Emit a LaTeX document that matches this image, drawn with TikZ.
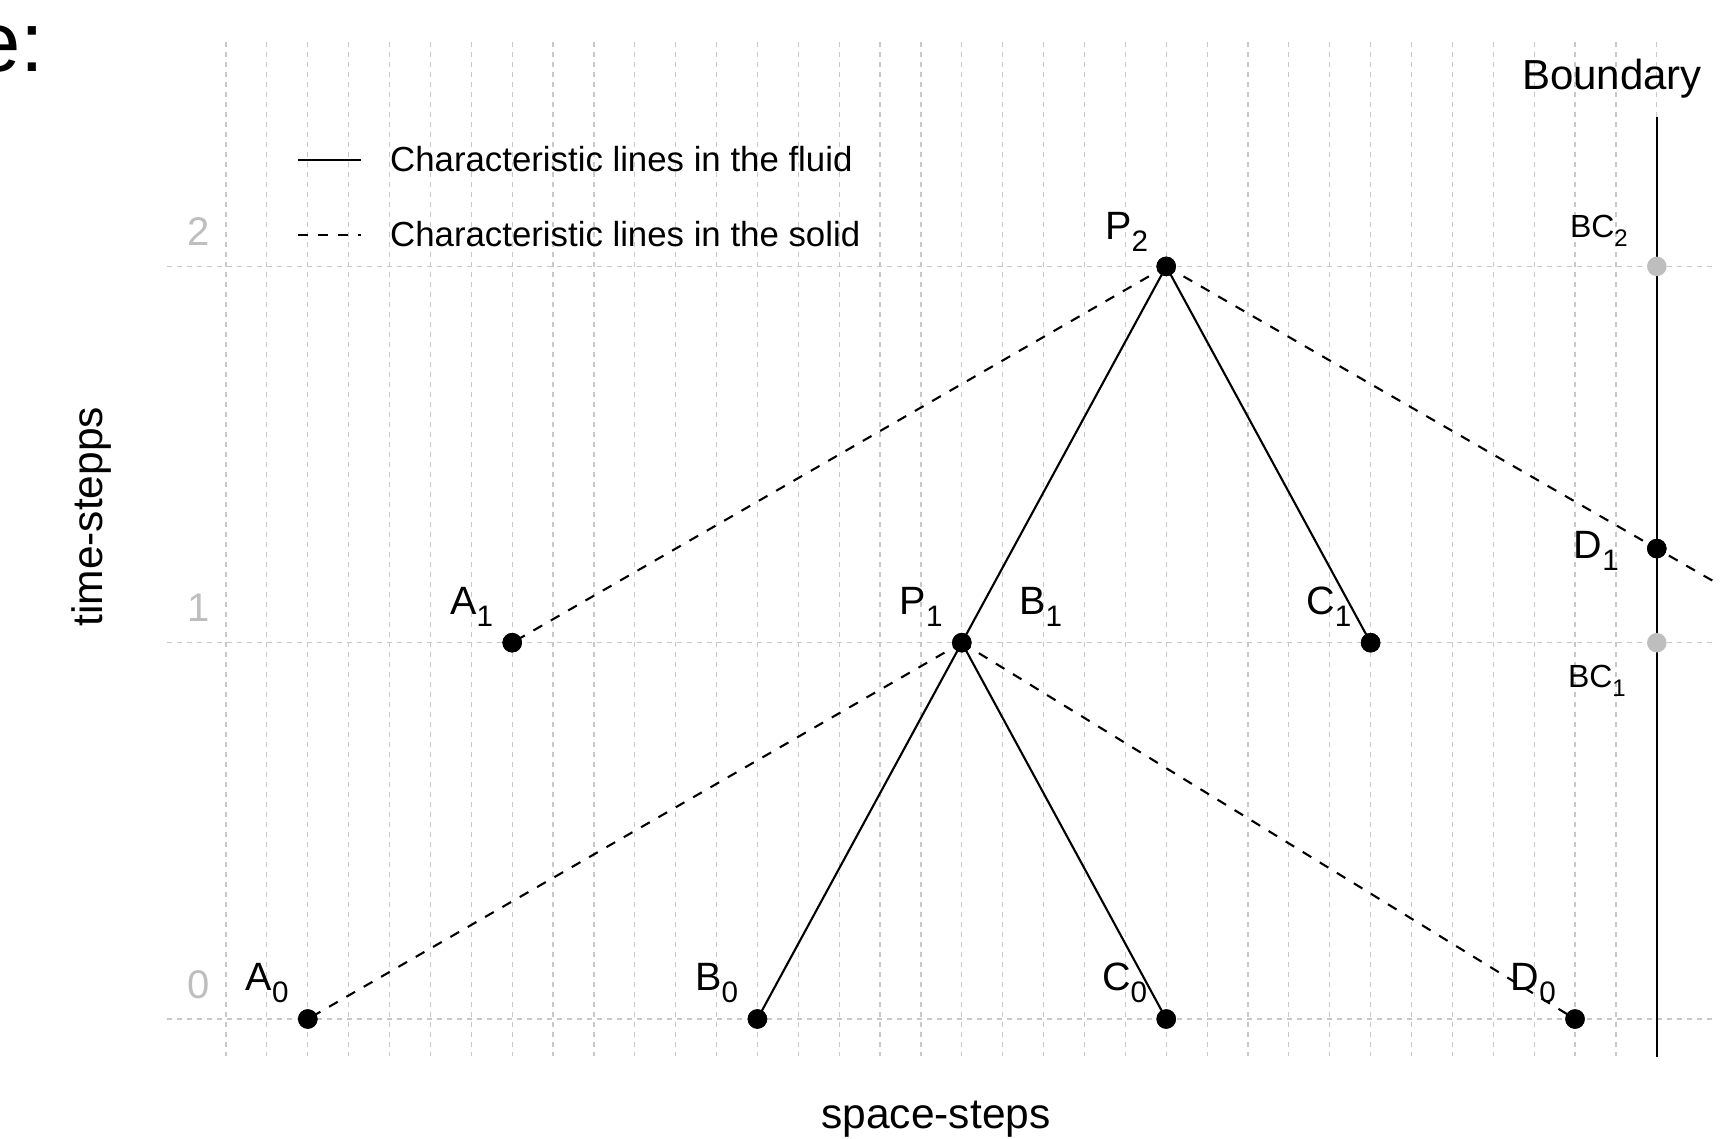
\documentclass[tikz,border=0pt]{standalone}
\usepackage{fontspec}
\setmainfont{Liberation Sans}
\definecolor{gridc}{HTML}{C8C8C8}
\definecolor{tickc}{HTML}{BEBEBE}
\definecolor{bcc}{HTML}{BEBEBE}
\newcommand{\lbl}[2]{#1\raisebox{-0.3em}{\scalebox{0.75}{#2}}}
\begin{document}
\begin{tikzpicture}[x=1pt,y=-1pt,
  gridline/.style={draw=gridc, line width=1.2pt, dash pattern=on 5pt off 5pt},
  fluidln/.style={draw=black, line width=2.1pt},
  solidln/.style={draw=black, line width=2.1pt, dash pattern=on 10pt off 10pt},
  boundln/.style={draw=black, line width=2.4pt},
  dot/.style={circle, fill=black, inner sep=0pt, minimum size=19.5pt},
  bcdot/.style={circle, fill=bcc, inner sep=0pt, minimum size=19.5pt},
  ptlabel/.style={inner sep=0pt, anchor=south east, font=\fontsize{39.5pt}{41pt}\selectfont},
  bclabel/.style={inner sep=0pt, anchor=south east, font=\fontsize{32pt}{34pt}\selectfont},
  ticklabel/.style={inner sep=0pt, anchor=base, text=tickc, font=\fontsize{40pt}{42pt}\selectfont},
  legtext/.style={inner sep=0pt, anchor=base west, font=\fontsize{34.8pt}{36pt}\selectfont},
  axtitle/.style={inner sep=0pt, anchor=base, font=\fontsize{42.5pt}{44pt}\selectfont}
]
\useasboundingbox (0,0) rectangle (1730,1139);

% partially visible title
\node[inner sep=0pt, anchor=base west, font=\fontsize{85pt}{88pt}\selectfont] (ttl) at (-27,72) {e:};

% grid
\foreach \i in {0,...,35} {
  \draw[gridline] ({226+40.88*\i},42) -- ({226+40.88*\i},1056);
}
\foreach \yy in {1019,642.7,266.4} {
  \draw[gridline] (166.7,\yy) -- (1715,\yy);
}

% tick labels
\node[ticklabel] (t0) at (199,998) {0};
\node[ticklabel] (t1) at (199,621.7) {1};
\node[ticklabel] (t2) at (199,245.4) {2};

% axis titles
\node[axtitle] (xt) at (936,1128) {space-steps};
\node[axtitle, rotate=90] (yt) at (102.7,516.7) {time-stepps};

% legend
\coordinate (l1a) at (298,160);
\coordinate (l1b) at (361,160);
\coordinate (l2a) at (298,235);
\coordinate (l2b) at (361,235);
\draw[fluidln] (l1a) -- (l1b);
\draw[solidln] (l2a) -- (l2b);
\node[legtext] (leg1) at (390,172) {Characteristic lines in the fluid};
\node[legtext] (leg2) at (390,247) {Characteristic lines in the solid};

% boundary
\coordinate (btop) at (1656.8,116.7);
\coordinate (bbot) at (1656.8,1057);
\draw[boundln] (btop) -- (bbot);
\node[inner sep=0pt, anchor=base west, font=\fontsize{42pt}{44pt}\selectfont] (bnd) at (1522,90) {Boundary};

% points
\node[dot] (A0) at (307.8,1019) {};
\node[dot] (B0) at (757.4,1019) {};
\node[dot] (C0) at (1166.2,1019) {};
\node[dot] (D0) at (1575,1019) {};
\node[dot] (A1) at (512.2,642.7) {};
\node[dot] (P1) at (961.8,642.7) {};
\node[dot] (C1) at (1370.6,642.7) {};
\node[dot] (P2) at (1166.2,266.4) {};
\node[dot] (D1) at (1656.8,548.6) {};
\coordinate (Dext) at (1716,582.7);

% characteristic lines
\draw[solidln] (P1.center) -- (A0.center);
\draw[solidln] (P1.center) -- (D0.center);
\draw[solidln] (P2.center) -- (A1.center);
\draw[solidln] (P2.center) -- (Dext);
\draw[fluidln] (P1.center) -- (B0.center);
\draw[fluidln] (P1.center) -- (C0.center);
\draw[fluidln] (P2.center) -- (P1.center);
\draw[fluidln] (P2.center) -- (C1.center);

% redraw dots on top of the lines
\foreach \n in {A0,B0,C0,D0,A1,P1,C1,P2,D1} {
  \fill[black] (\n.center) circle (9.75);
}
\node[bcdot] (BC1) at (1656.8,642.7) {};
\node[bcdot] (BC2) at (1656.8,266.4) {};

% labels
\node[ptlabel] (lA0) at (288.8,1003) {\lbl{A}{0}};
\node[ptlabel] (lB0) at (738.4,1003) {\lbl{B}{0}};
\node[ptlabel] (lC0) at (1147.2,1003) {\lbl{C}{0}};
\node[ptlabel] (lD0) at (1556,1003) {\lbl{D}{0}};
\node[ptlabel] (lA1) at (493.2,626.7) {\lbl{A}{1}};
\node[ptlabel] (lP1) at (942.8,626.7) {\lbl{P}{1}};
\node[ptlabel, anchor=south west] (lB1) at (1019,626.7) {\lbl{B}{1}};
\node[ptlabel] (lC1) at (1351.6,626.7) {\lbl{C}{1}};
\node[ptlabel] (lP2) at (1148.2,251.4) {\lbl{P}{2}};
\node[ptlabel] (lD1) at (1619,571) {\lbl{D}{1}};
\node[bclabel] (lBC1) at (1626,697) {\lbl{BC}{1}};
\node[bclabel] (lBC2) at (1628,247) {\lbl{BC}{2}};
\end{tikzpicture}
\end{document}
